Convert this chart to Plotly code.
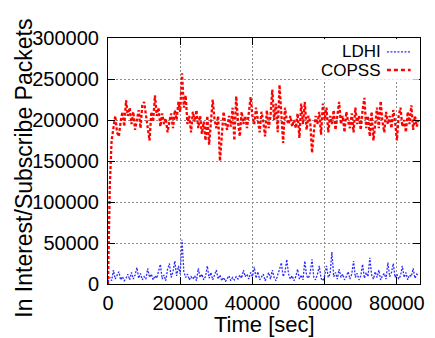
import numpy as np
import plotly.graph_objects as go

# Time axis (seconds), one sample every 500 s
time_sec = np.arange(0, 86001, 500)

# COPSS in-interest/subscribe packets (thousands)
copss_k = [
    0, 120, 175, 190, 205, 185, 180, 198, 210, 192, 224, 205, 215, 195, 210, 188, 200, 212, 190, 218,
    222, 205, 195, 175, 210, 198, 230, 205, 215, 192, 208, 195, 202, 185, 198, 208, 190, 212, 200, 222,
    210, 257, 215, 230, 195, 205, 185, 210, 198, 212, 190, 205, 183, 198, 175, 205, 170, 195, 225, 200,
    190, 205, 150, 180, 210, 195, 188, 205, 192, 215, 175, 229, 198, 180, 210, 195, 205, 190, 212, 228,
    205, 195, 215, 200, 185, 210, 198, 180, 212, 190, 205, 237, 200, 220, 185, 243, 210, 172, 215, 200,
    195, 205, 192, 200, 190, 208, 178, 220, 195, 222, 188, 205, 198, 160, 185, 205, 195, 210, 182, 220,
    200, 215, 185, 205, 195, 212, 188, 208, 222, 195, 205, 185, 210, 198, 190, 208, 185, 215, 195, 205,
    188, 212, 227, 190, 205, 180, 210, 175, 200, 215, 190, 223, 198, 185, 210, 195, 205, 190, 212, 198,
    175, 205, 215, 192, 200, 185, 210, 195, 218, 188, 205, 192, 200,
]

# LDHI in-interest/subscribe packets (thousands)
ldhi_k = [
    3, 8, 4, 17, 6, 10, 15, 5, 9, 4, 7, 12, 5, 14, 6, 11, 20, 7, 13, 5,
    9, 6, 19, 8, 12, 5, 10, 7, 14, 24, 6, 11, 4, 18, 25, 8, 15, 28, 10, 22,
    12, 54, 15, 8, 12, 5, 9, 6, 10, 4, 19, 8, 12, 5, 9, 22, 7, 14, 5, 10,
    17, 6, 11, 4, 8, 3, 7, 10, 4, 8, 5, 9, 6, 11, 7, 17, 9, 12, 6, 14,
    9, 21, 7, 15, 5, 9, 12, 4, 8, 14, 6, 17, 8, 4, 10, 18, 26, 9, 14, 30,
    12, 6, 10, 4, 9, 18, 6, 11, 5, 28, 10, 7, 14, 30, 8, 5, 12, 22, 7, 4,
    10, 22, 8, 12, 39, 9, 14, 6, 18, 8, 12, 5, 9, 15, 6, 12, 28, 8, 13, 5,
    10, 24, 7, 14, 9, 32, 11, 6, 15, 8, 17, 5, 10, 13, 6, 26, 9, 14, 25, 8,
    12, 6, 10, 22, 8, 14, 5, 11, 9, 19, 7, 12, 10,
]

x_ticks = [0, 20000, 40000, 60000, 80000]
y_ticks = [0, 50000, 100000, 150000, 200000, 250000, 300000]
series_names = ["LDHI", "COPSS"]

copss = [v * 1000 for v in copss_k]
ldhi = [v * 1000 for v in ldhi_k]

FONT = "Liberation Sans, Arial, sans-serif"
RED = "#ff0000"
BLUE = "#2a2aff"

fig = go.Figure()
fig.add_trace(go.Scatter(x=time_sec, y=ldhi, mode="lines", name=series_names[0],
                         line=dict(color=BLUE, width=1.3, dash="2px,1.5px"),
                         showlegend=False))
fig.add_trace(go.Scatter(x=time_sec, y=copss, mode="lines", name=series_names[1],
                         line=dict(color=RED, width=2.3, dash="3px,2px"),
                         showlegend=False))

axis_common = dict(
    ticks="inside", ticklen=7, tickcolor="black", tickwidth=1,
    showline=True, linecolor="black", linewidth=1, mirror="ticks",
    showgrid=True, gridcolor="#8f8f8f", gridwidth=1, griddash="2px,2px",
    zeroline=False, tickformat="d",
    tickfont=dict(family=FONT, size=20, color="black"),
)

fig.update_xaxes(range=[0, 86400], tickvals=x_ticks, ticklabelstandoff=1, **axis_common)
fig.update_yaxes(range=[0, 300000], tickvals=y_ticks, ticklabelstandoff=4, **axis_common)

# opaque key box
fig.add_shape(type="rect", xref="paper", yref="paper", x0=0.677, x1=0.997, y0=0.83, y1=0.996,
              fillcolor="white", line=dict(width=0), layer="above")
# key samples
fig.add_shape(type="line", xref="paper", yref="paper", x0=0.894, x1=0.97, y0=0.944, y1=0.944,
              line=dict(color=BLUE, width=1.3, dash="2px,1.5px"), layer="above")
fig.add_shape(type="line", xref="paper", yref="paper", x0=0.894, x1=0.97, y0=0.87, y1=0.87,
              line=dict(color=RED, width=2.6, dash="4px,3px"), layer="above")

annotations = [
    dict(text=series_names[0], xref="paper", yref="paper", x=0.883, y=0.946,
         xanchor="right", yanchor="middle", showarrow=False,
         font=dict(family=FONT, size=17, color="black")),
    dict(text=series_names[1], xref="paper", yref="paper", x=0.883, y=0.868,
         xanchor="right", yanchor="middle", showarrow=False,
         font=dict(family=FONT, size=17, color="black")),
    dict(text="Time [sec]", xref="paper", yref="paper", x=0.5, y=-0.165,
         xanchor="center", yanchor="middle", showarrow=False,
         font=dict(family=FONT, size=22, color="black")),
    dict(text="In Interest/Subscribe Packets", xref="paper", yref="paper",
         x=-0.268, y=0.47, xanchor="center", yanchor="middle", textangle=-90,
         showarrow=False, font=dict(family=FONT, size=23, color="black")),
]

fig.update_layout(
    width=435, height=338, autosize=False,
    margin=dict(l=108, r=11, t=38, b=54),
    plot_bgcolor="white", paper_bgcolor="white",
    annotations=annotations, showlegend=False,
)

fig.write_html("out.html")
